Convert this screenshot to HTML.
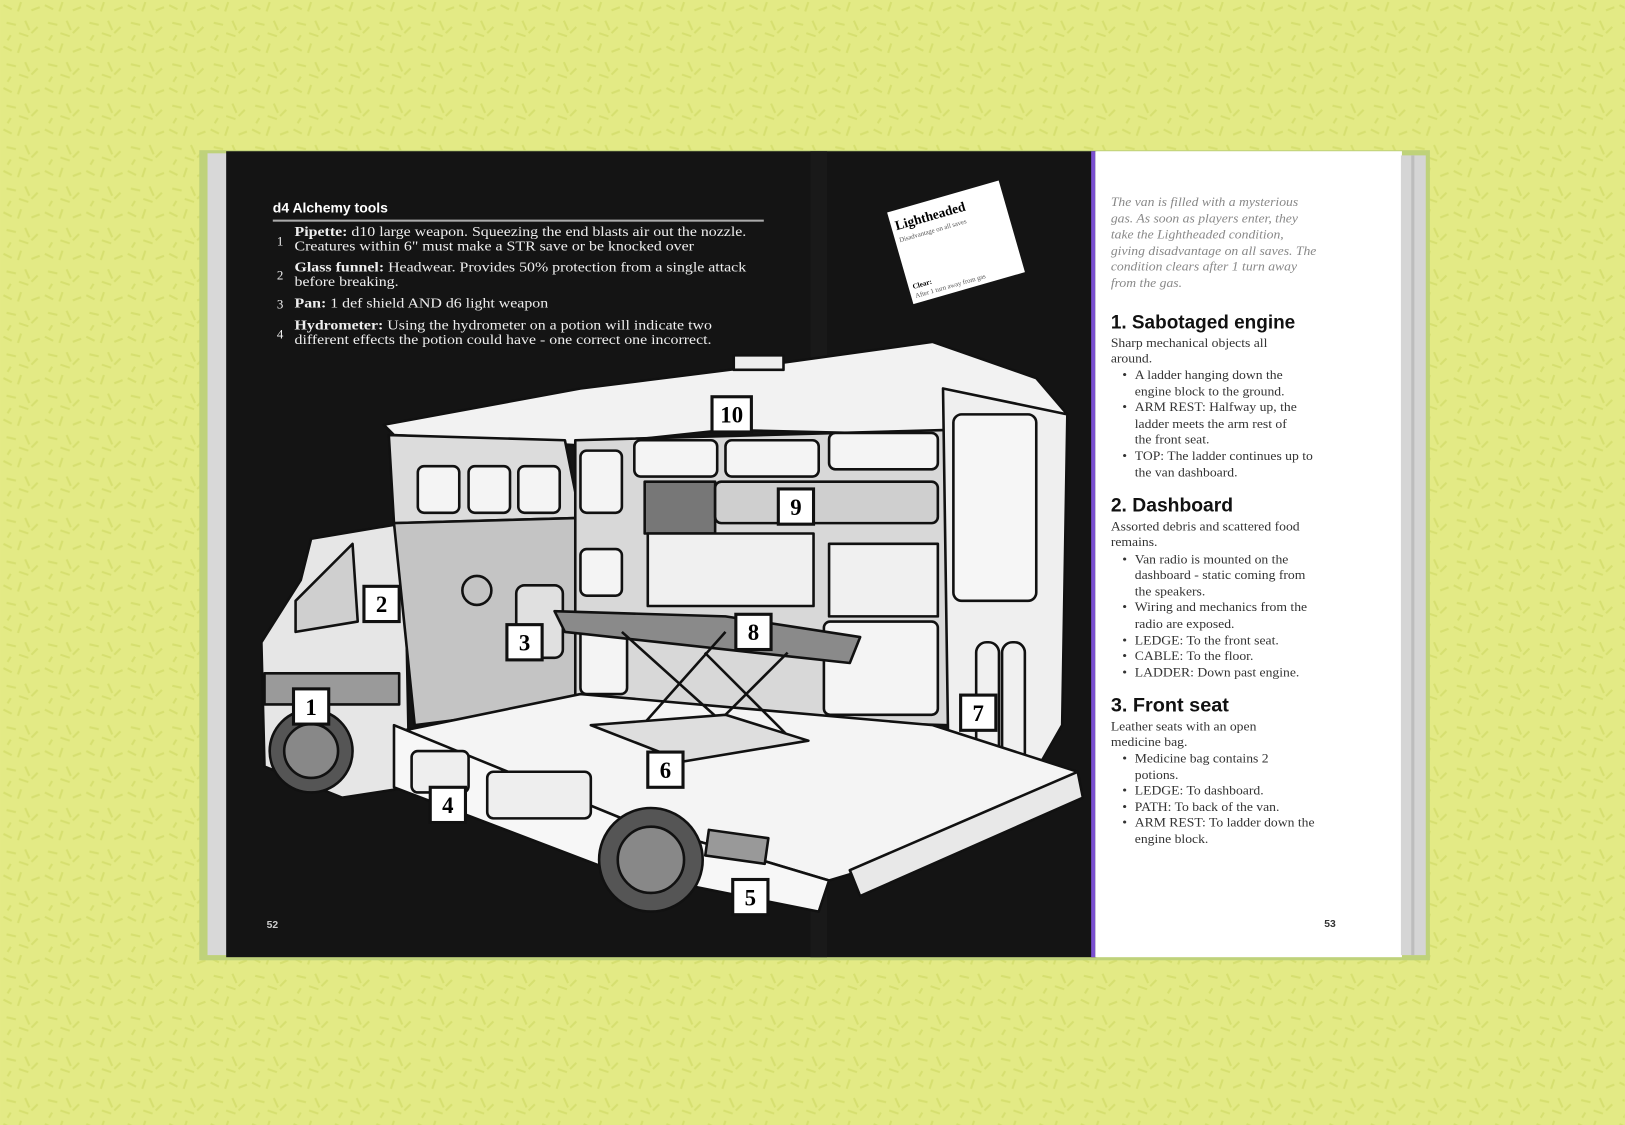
<!DOCTYPE html>
<html><head><meta charset="utf-8"><style>
html,body{margin:0;padding:0;background:#e4ea86;}
svg{display:block}
.s{font-family:"Liberation Serif",serif;}
.h{font-family:"Liberation Sans",sans-serif;font-weight:bold;}
</style></head><body>
<svg width="1625" height="1125" viewBox="0 0 1568 1086" xmlns="http://www.w3.org/2000/svg">
<defs>
<pattern id="p" width="40" height="40" patternUnits="userSpaceOnUse">
<rect width="40" height="40" fill="#e3ea85"/>
<path d="M3 5l8 4M20 2l-3 9M30 10l8-3M6 22l9 2M24 20l4 9M36 26l-6 6M10 34l-3 5M18 32l9 3" stroke="#d6df70" stroke-width="2"/>
</pattern>
</defs>
<rect width="1568" height="1086" fill="url(#p)"/>
<rect x="192" y="145" width="1188" height="782" fill="#bfd27a"/>
<rect x="200" y="148" width="20" height="774" fill="#d8d8d8"/>
<rect x="218" y="146" width="840" height="778" fill="#141414"/>
<rect x="782" y="146" width="16" height="778" fill="#191919"/>
<rect x="1053" y="146" width="4" height="778" fill="#7a4fd0"/>
<rect x="1057" y="146" width="296" height="778" fill="#ffffff"/>
<rect x="1352" y="150" width="24" height="772" fill="#d5d5d5"/>
<rect x="1362" y="150" width="3" height="772" fill="#bdbdbd"/>

<text x="263" y="205" class="h" fill="#fff" font-size="13.5">d4 Alchemy tools</text>
<rect x="263" y="212" width="474" height="2" fill="#aaa"/>
<g class="s" fill="#eee" font-size="12.5">
<text x="267" y="237">1</text>
<text x="267" y="270">2</text>
<text x="267" y="298">3</text>
<text x="267" y="327">4</text>
</g>
<g class="s" fill="#eee" font-size="13" transform="translate(284 0) scale(1.18 1) translate(-284 0)">
<text x="284" y="228"><tspan font-weight="bold">Pipette:</tspan> d10 large weapon. Squeezing the end blasts air out the nozzle.</text>
<text x="284" y="242">Creatures within 6" must make a STR save or be knocked over</text>
<text x="284" y="262"><tspan font-weight="bold">Glass funnel:</tspan> Headwear. Provides 50% protection from a single attack</text>
<text x="284" y="276">before breaking.</text>
<text x="284" y="297"><tspan font-weight="bold">Pan:</tspan> 1 def shield AND d6 light weapon</text>
<text x="284" y="318"><tspan font-weight="bold">Hydrometer:</tspan> Using the hydrometer on a potion will indicate two</text>
<text x="284" y="332">different effects the potion could have - one correct one incorrect.</text>
</g>
<text x="257" y="896" class="h" fill="#ccc" font-size="10">52</text>

<g transform="rotate(-16 922 232)">
<rect x="866" y="188" width="112" height="92" fill="#fff"/>
<text x="870" y="207" class="s" font-weight="bold" font-size="13">Lightheaded</text>
<text x="870" y="219" class="s" font-size="6.5" fill="#555">Disadvantage on all saves</text>
<text x="870" y="266" class="s" font-weight="bold" font-size="7">Clear:</text>
<text x="870" y="275" class="s" font-size="6.5" fill="#555">After 1 turn away from gas</text>
</g>

<g stroke="#111" stroke-width="2.5" stroke-linejoin="round">
<polygon points="370,410 560,375 720,355 900,330 1000,365 1030,400 910,420 700,415 560,430 380,420" fill="#f2f2f2"/>
<rect x="708" y="343" width="48" height="14" fill="#eee"/>
<polygon points="252,620 290,560 300,520 390,505 395,760 330,770 255,740" fill="#e6e6e6"/>
<rect x="255" y="650" width="130" height="30" fill="#9a9a9a"/>
<polygon points="285,580 340,525 345,600 285,610" fill="#cfcfcf"/>
<polygon points="375,420 545,425 560,500 380,505" fill="#dcdcdc"/>
<rect x="403" y="450" width="40" height="45" rx="6" fill="#f4f4f4"/>
<rect x="452" y="450" width="40" height="45" rx="6" fill="#f4f4f4"/>
<rect x="500" y="450" width="40" height="45" rx="6" fill="#f4f4f4"/>
<polygon points="380,505 560,500 560,680 400,700" fill="#c4c4c4"/>
<circle cx="460" cy="570" r="14" fill="none"/>
<rect x="498" y="565" width="45" height="70" rx="8" fill="#e0e0e0"/>
<polygon points="555,425 915,415 915,700 555,690" fill="#d8d8d8"/>
<rect x="560" y="435" width="40" height="60" rx="6" fill="#f4f4f4"/>
<rect x="560" y="530" width="40" height="45" rx="6" fill="#f4f4f4"/>
<rect x="560" y="600" width="45" height="70" rx="6" fill="#f4f4f4"/>
<rect x="612" y="425" width="80" height="35" rx="6" fill="#f4f4f4"/>
<rect x="700" y="425" width="90" height="35" rx="6" fill="#f4f4f4"/>
<rect x="800" y="418" width="105" height="35" rx="6" fill="#f4f4f4"/>
<rect x="622" y="465" width="68" height="50" fill="#777"/>
<rect x="690" y="465" width="215" height="40" rx="6" fill="#cfcfcf"/>
<rect x="625" y="515" width="160" height="70" fill="#f0f0f0"/>
<rect x="800" y="525" width="105" height="70" fill="#f0f0f0"/>
<rect x="795" y="600" width="110" height="90" rx="6" fill="#f4f4f4"/>
<polygon points="910,375 1030,400 1025,700 1005,735 915,720" fill="#efefef"/>
<rect x="920" y="400" width="80" height="180" rx="8" fill="#f6f6f6"/>
<rect x="942" y="620" width="22" height="120" rx="10" fill="#f0f0f0"/>
<rect x="967" y="620" width="22" height="120" rx="10" fill="#f0f0f0"/>
<polygon points="390,705 560,670 900,700 1040,745 1000,790 800,850 600,790 420,725" fill="#f4f4f4"/>
<polygon points="820,840 1040,745 1045,770 830,865" fill="#e8e8e8"/>
<polygon points="380,700 600,790 800,850 790,880 590,840 380,760" fill="#f7f7f7"/>
<rect x="397" y="725" width="55" height="40" rx="6" fill="#eee"/>
<rect x="470" y="745" width="100" height="45" rx="6" fill="#eee"/>
<polygon points="535,590 700,595 830,615 820,640 545,610" fill="#8a8a8a"/>
<path d="M600 610 L700 700 M700 610 L620 700 M680 630 L760 710 M760 630 L680 710" fill="none"/>
<polygon points="570,700 700,690 780,715 660,735" fill="#dedede"/>
<circle cx="300" cy="725" r="40" fill="#555"/>
<circle cx="300" cy="725" r="26" fill="#888"/>
<circle cx="628" cy="830" r="50" fill="#555"/>
<circle cx="628" cy="830" r="32" fill="#888"/>
<rect x="682" y="805" width="58" height="25" fill="#999" transform="rotate(8 711 817)"/>
</g>
<g class="s" font-size="22" font-weight="bold" text-anchor="middle">
<g stroke="#111" stroke-width="3" fill="#fff">
<rect x="687" y="383" width="38" height="34"/>
<rect x="751" y="472" width="34" height="34"/>
<rect x="351" y="566" width="34" height="34"/>
<rect x="489" y="603" width="34" height="34"/>
<rect x="710" y="593" width="34" height="34"/>
<rect x="283" y="665" width="34" height="34"/>
<rect x="927" y="671" width="34" height="34"/>
<rect x="625" y="726" width="34" height="34"/>
<rect x="415" y="760" width="34" height="34"/>
<rect x="707" y="849" width="34" height="34"/>
</g>
<text x="706" y="408">10</text><text x="768" y="497">9</text><text x="368" y="591">2</text>
<text x="506" y="628">3</text><text x="727" y="618">8</text><text x="300" y="690">1</text>
<text x="944" y="696">7</text><text x="642" y="751">6</text><text x="432" y="785">4</text>
<text x="724" y="874">5</text>
</g>

<g transform="translate(1072 0) scale(1.1 1) translate(-1072 0)">
<g class="s" font-style="italic" fill="#888" font-size="12">
<text x="1072" y="199">The van is filled with a mysterious</text>
<text x="1072" y="215">gas. As soon as players enter, they</text>
<text x="1072" y="230">take the Lightheaded condition,</text>
<text x="1072" y="246">giving disadvantage on all saves. The</text>
<text x="1072" y="261">condition clears after 1 turn away</text>
<text x="1072" y="277">from the gas.</text>
</g>
<g class="s" fill="#333" font-size="12">
<text x="1072" y="335">Sharp mechanical objects all</text>
<text x="1072" y="350">around.</text>
<text x="1082" y="366">•</text><text x="1093" y="366">A ladder hanging down the</text>
<text x="1093" y="382">engine block to the ground.</text>
<text x="1082" y="397">•</text><text x="1093" y="397">ARM REST: Halfway up, the</text>
<text x="1093" y="413">ladder meets the arm rest of</text>
<text x="1093" y="428">the front seat.</text>
<text x="1082" y="444">•</text><text x="1093" y="444">TOP: The ladder continues up to</text>
<text x="1093" y="460">the van dashboard.</text>
<text x="1072" y="512">Assorted debris and scattered food</text>
<text x="1072" y="527">remains.</text>
<text x="1082" y="544">•</text><text x="1093" y="544">Van radio is mounted on the</text>
<text x="1093" y="559">dashboard - static coming from</text>
<text x="1093" y="575">the speakers.</text>
<text x="1082" y="590">•</text><text x="1093" y="590">Wiring and mechanics from the</text>
<text x="1093" y="606">radio are exposed.</text>
<text x="1082" y="622">•</text><text x="1093" y="622">LEDGE: To the front seat.</text>
<text x="1082" y="637">•</text><text x="1093" y="637">CABLE: To the floor.</text>
<text x="1082" y="653">•</text><text x="1093" y="653">LADDER: Down past engine.</text>
<text x="1072" y="705">Leather seats with an open</text>
<text x="1072" y="720">medicine bag.</text>
<text x="1082" y="736">•</text><text x="1093" y="736">Medicine bag contains 2</text>
<text x="1093" y="752">potions.</text>
<text x="1082" y="767">•</text><text x="1093" y="767">LEDGE: To dashboard.</text>
<text x="1082" y="783">•</text><text x="1093" y="783">PATH: To back of the van.</text>
<text x="1082" y="798">•</text><text x="1093" y="798">ARM REST: To ladder down the</text>
<text x="1093" y="814">engine block.</text>
</g>
</g>
<g class="h" fill="#111" font-size="19">
<text x="1072" y="317" textLength="178" lengthAdjust="spacingAndGlyphs">1. Sabotaged engine</text>
<text x="1072" y="494" textLength="118" lengthAdjust="spacingAndGlyphs">2. Dashboard</text>
<text x="1072" y="687" textLength="114" lengthAdjust="spacingAndGlyphs">3. Front seat</text>
</g>
<text x="1278" y="895" class="h" fill="#333" font-size="10">53</text>
</svg>
</body></html>
